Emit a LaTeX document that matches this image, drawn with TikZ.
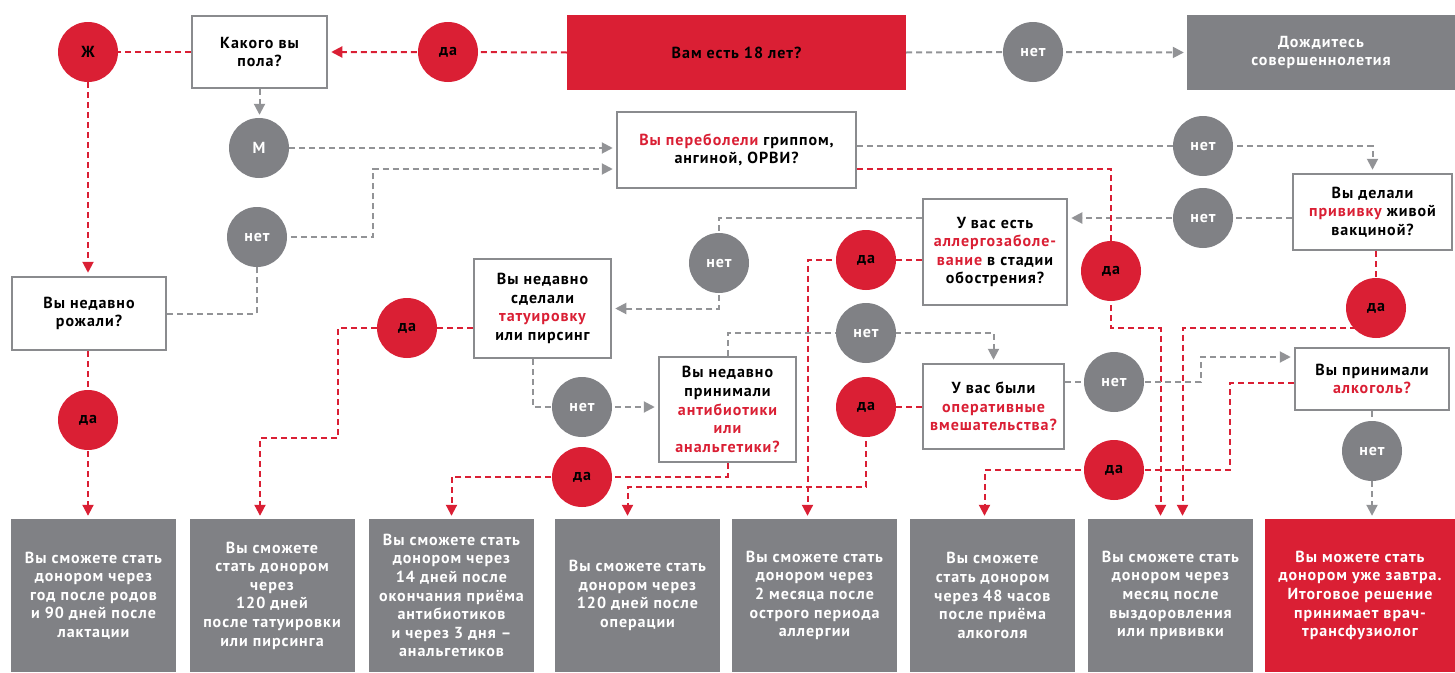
\documentclass[tikz,border=0pt]{standalone}
\usepackage{fontspec}
\setmainfont{PT Sans}[LetterSpace=6]
\usetikzlibrary{arrows.meta,calc}
\definecolor{rd}{HTML}{DA1F34}
\definecolor{gc}{HTML}{808185}
\definecolor{glc}{HTML}{929396}
\definecolor{gb}{HTML}{8A8B8E}
\pgfdeclarelayer{bg}
\pgfsetlayers{bg,main}
\newcommand{\rw}[1]{\textcolor{rd}{#1}}
\begin{document}
\begin{tikzpicture}[x=1pt,y=-1pt,
  txt/.style={font=\fontsize{16}{18.6}\selectfont\bfseries, align=center},
  qbox/.style={txt, draw=gb, line width=2.5pt, fill=white, text=black, inner sep=0pt},
  abox/.style={txt, fill=gc, text=white, minimum width=165pt, minimum height=153pt, inner sep=0pt},
  rc/.style={circle, fill=rd, minimum size=60pt, inner sep=0pt, txt, text=black},
  gcirc/.style={circle, fill=gc, minimum size=60pt, inner sep=0pt, txt, text=white},
  rl/.style={draw=rd, line width=2pt, dash pattern=on 6pt off 4pt},
  gln/.style={draw=glc, line width=2pt, dash pattern=on 6pt off 4pt},
  arr/.style={-{Triangle[length=11pt,width=11pt]}, shorten >=3pt},
]
\useasboundingbox (0,0) rectangle (1455,672);
% question boxes
\node[qbox, minimum width=135pt, minimum height=72pt] (kak) at (259.5,52) {Какого вы\\пола?};
\node[txt, fill=rd, text=black, minimum width=339pt, minimum height=75pt, inner sep=0pt] (age) at (736.5,52.5) {Вам есть 18 лет?};
\node[txt, fill=gc, text=white, minimum width=268pt, minimum height=75pt, inner sep=0pt] (wait) at (1321,52.5) {Дождитесь\\совершеннолетия};
\node[qbox, minimum width=239pt, minimum height=76pt] (flu) at (736.5,150) {\rw{Вы переболели} гриппом,\\ангиной, ОРВИ?};
\node[qbox, minimum width=159pt, minimum height=76pt] (vac) at (1372.5,212) {Вы делали\\\rw{прививку} живой\\вакциной?};
\node[qbox, minimum width=144pt, minimum height=106pt] (all) at (995,252) {У вас есть\\\rw{аллергозаболе-}\\\rw{вание} в стадии\\обострения?};
\node[qbox, minimum width=154pt, minimum height=73pt] (birth) at (89,313.5) {Вы недавно\\рожали?};
\node[qbox, minimum width=137pt, minimum height=99pt] (tat) at (542.5,308.5) {Вы недавно\\сделали\\\rw{татуировку}\\или пирсинг};
\node[qbox, minimum width=137pt, minimum height=105pt] (anti) at (727.5,409.5) {Вы недавно\\принимали\\\rw{антибиотики}\\\rw{или}\\\rw{анальгетики?}};
\node[qbox, minimum width=141pt, minimum height=85pt] (oper) at (993.5,406.5) {У вас были\\\rw{оперативные}\\\rw{вмешательства?}};
\node[qbox, minimum width=154pt, minimum height=62pt] (alc) at (1372,379) {Вы принимали\\\rw{алкоголь?}};
% answer boxes
\node[abox] (b1) at (93.5,595.5) {Вы сможете стать\\донором через\\год после родов\\и 90 дней после\\лактации};
\node[abox] (b2) at (272,595.5) {Вы сможете\\стать донором\\через\\120 дней\\после татуировки\\или пирсинга};
\node[abox] (b3) at (451.5,595.5) {Вы сможете стать\\донором через\\14 дней после\\окончания приёма\\антибиотиков\\и через 3 дня –\\анальгетиков};
\node[abox] (b4) at (637.5,595.5) {Вы сможете стать\\донором через\\120 дней после\\операции};
\node[abox] (b5) at (814.5,595.5) {Вы сможете стать\\донором через\\2 месяца после\\острого периода\\аллергии};
\node[abox] (b6) at (992.5,595.5) {Вы сможете\\стать донором\\через 48 часов\\после приёма\\алкоголя};
\node[abox] (b7) at (1170.5,595.5) {Вы сможете стать\\донором через\\месяц после\\выздоровления\\или прививки};
\node[abox, fill=rd, minimum width=190pt] (b8) at (1360,595.5) {Вы можете стать\\донором уже завтра.\\Итоговое решение\\принимает врач-\\трансфузиолог};
% circles
\node[rc] (zh) at (88,52) {Ж};
\node[rc] (da1) at (448,52) {да};
\node[gcirc] (net1) at (1033,52) {нет};
\node[gcirc] (m) at (259,148) {М};
\node[gcirc] (net2) at (257,237) {нет};
\node[gcirc] (net3) at (1203,146) {нет};
\node[gcirc] (net4) at (1203,218) {нет};
\node[rc] (dabirth) at (88,420) {да};
\node[gcirc] (net5) at (719,263) {нет};
\node[rc] (datat) at (407,328) {да};
\node[gcirc] (net6) at (582,407) {нет};
\node[rc] (daanti) at (582,477) {да};
\node[gcirc] (net7) at (866,333) {нет};
\node[rc] (daall) at (866,260) {да};
\node[rc] (daflu) at (1111,271) {да};
\node[rc] (davac) at (1376,308) {да};
\node[rc] (daop) at (866,407) {да};
\node[gcirc] (net8) at (1114,382) {нет};
\node[rc] (daalc) at (1114,470) {да};
\node[gcirc] (net9) at (1372,451) {нет};
% helper coordinates
\coordinate (j1) at (373,169);
\coordinate (t1) at (338,438);
\coordinate (f1) at (1111,328);
\coordinate (o1) at (0,487);
\coordinate (n8a) at (1201,357);
\coordinate (al1) at (1230,470);
\begin{pgfonlayer}{bg}
\draw[rl,arr] (age.west) -- (da1.center) -- (kak.east);
\draw[rl] (kak.west) -- (zh.center);
\draw[rl,arr] (zh.center) -- (zh |- birth.north);
\draw[gln,arr] (kak.south) -- (kak.south |- m.north);
\draw[gln,arr] (age.east) -- (net1.center) -- (wait.west);
\draw[gln,arr] (m.center) -- (flu.west |- m);
\draw[gln,arr] (birth.east) -| (net2.center) -- (net2 -| j1) -- (j1) -- (flu.west |- j1);
\draw[gln,arr] (flu.east |- net3) -- (net3.center) -| (vac.north);
\draw[gln,arr] (vac.west |- net4) -- (all.east |- net4);
\draw[gln,arr] (all.west |- net4) -| (net5.center) |- (tat.east);
\draw[rl] (tat.west |- datat) -- (datat.center);
\draw[rl,arr] (datat.center) -| (t1) -| ([xshift=-12pt]b2.north);
\draw[gln,arr] ([xshift=-10pt]tat.south) |- (net6.center) -- (anti.west |- net6);
\draw[rl,arr] (anti.south) |- (daanti.center) -| (b3.north);
\draw[gln,arr] (anti.north) |- (net7.center) -| (oper.north);
\draw[rl,arr] (all.west |- daall) -- (daall.center) -| ([xshift=-7pt]b5.north);
\draw[rl,arr] ([yshift=-19pt]flu.east) -| (daflu.center) -- (f1) -| ([xshift=-10pt]b7.north);
\draw[rl] (davac |- vac.south) -- (davac.center);
\draw[rl,arr] (davac.center |- f1) -| ([xshift=12pt]b7.north);
\draw[rl,arr] (oper.west |- daop) -- (daop.center) -- (daop |- o1) -| ([xshift=-10pt]b4.north);
\draw[gln,arr] (oper.east |- net8) -- (net8.center) -| (n8a) -- (alc.west |- n8a);
\draw[rl,arr] ([yshift=-4pt]alc.west) -| (al1) -- (daalc.center) -| ([xshift=-8pt]b6.north);
\draw[gln,arr] (alc.south) -- (net9.center) -- ([xshift=12pt]b8.north);
\draw[rl,arr] (dabirth |- birth.south) -- (dabirth.center) -- (dabirth |- b1.north);
\end{pgfonlayer}
\end{tikzpicture}
\end{document}
